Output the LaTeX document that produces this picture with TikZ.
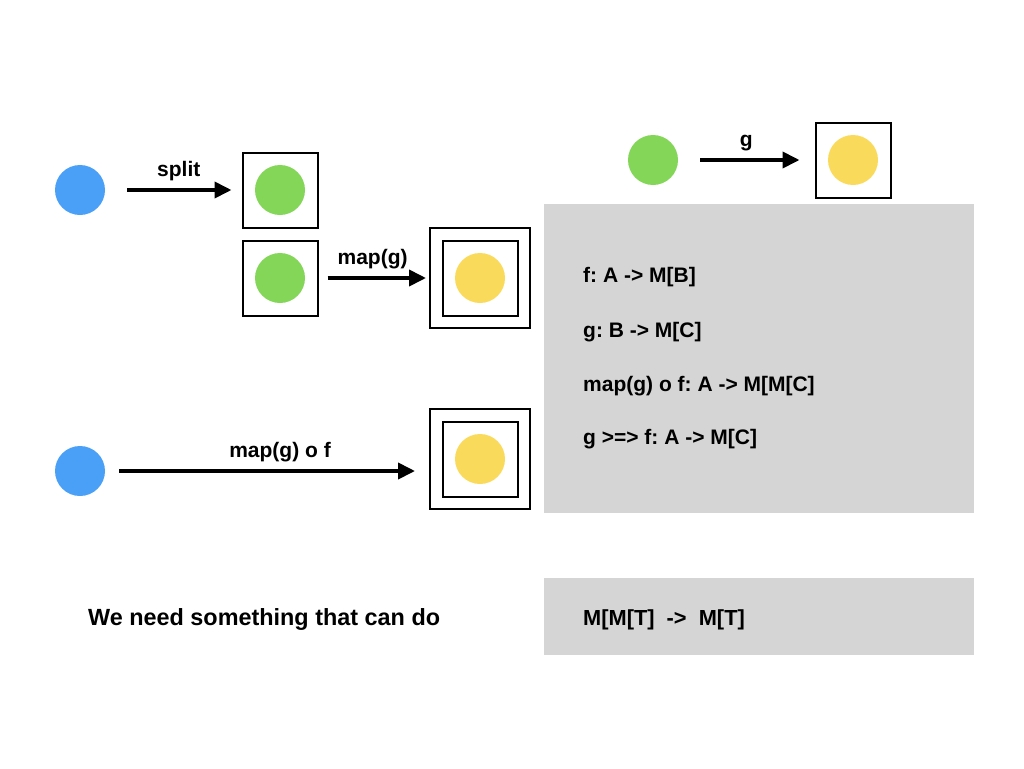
\documentclass[tikz,border=0pt]{standalone}
\usepackage{fontspec}
\setmainfont{Liberation Sans}
\usetikzlibrary{arrows.meta}
\definecolor{cblue}{HTML}{4AA0F7}
\definecolor{cgreen}{HTML}{84D658}
\definecolor{cyellow}{HTML}{F9DA5A}
\definecolor{cgray}{HTML}{D5D5D5}
\tikzset{
  dot/.style={circle, minimum size=50pt, inner sep=0pt, draw=none},
  bluedot/.style={dot, fill=cblue},
  greendot/.style={dot, fill=cgreen},
  yellowdot/.style={dot, fill=cyellow},
  box/.style={rectangle, draw=black, line width=2pt, minimum size=75pt, inner sep=0pt},
  outerbox/.style={rectangle, draw=black, line width=2pt, minimum size=100pt, inner sep=0pt},
  arr/.style={line width=3.8pt, -{Triangle[length=17pt,width=16pt]}},
  lbl/.style={anchor=base, yshift=14pt, inner sep=0pt, font=\bfseries\fontsize{21}{24}\selectfont},
  txt/.style={anchor=base west, inner sep=0pt, font=\bfseries\fontsize{21}{24}\selectfont},
  midtxt/.style={anchor=base west, inner sep=0pt, font=\bfseries\fontsize{21.8}{25}\selectfont},
  bigtxt/.style={anchor=base west, inner sep=0pt, font=\bfseries\fontsize{23.4}{26}\selectfont},
  panel/.style={fill=cgray, draw=none}
}
\begin{document}
\frenchspacing
\begin{tikzpicture}[x=1pt,y=-1pt]
\useasboundingbox (0,0) rectangle (1024,768);
% panels
\fill[panel] (544,204) rectangle (974,513);
\fill[panel] (544,578) rectangle (974,655);
% top-left row
\node[bluedot] (b1) at (80,190) {};
\node[box] (s1) at (280,190) {};
\node[greendot] (g1) at (280,190) {};
\node[box] (s2) at (280,278) {};
\node[greendot] (g2) at (280,278) {};
\node[outerbox] (o1) at (480,278) {};
\node[box] (i1) at (480,278) {};
\node[yellowdot] (y1) at (480,278) {};
\draw[arr, shorten <=22pt, shorten >=10pt] (b1) -- node[lbl, pos=0.54] {split} (s1);
\draw[arr, shorten <=9pt, shorten >=3pt] (s2) -- node[lbl, pos=0.49] {map(g)} (o1);
% bottom-left row
\node[bluedot] (b2) at (80,471) {};
\node[outerbox] (o2) at (480,459) {};
\node[box] (i2) at (480,459) {};
\node[yellowdot] (y2) at (480,459) {};
\coordinate (t2) at (o2.west |- b2);
\draw[arr, shorten <=14pt, shorten >=14pt] (b2) -- node[lbl, pos=0.54] {map(g) o f} (t2);
% top-right row
\node[greendot] (g3) at (653,160) {};
\node[box] (s3) at (853,160) {};
\node[yellowdot] (y3) at (853,160) {};
\draw[arr, shorten <=22pt, shorten >=15pt] (g3) -- node[lbl, pos=0.5] {g} (s3);
% panel texts
\node[txt] (l1) at (583,282) {f: A -> M[B]};
\node[txt] (l2) at (583,337) {g: B -> M[C]};
\node[txt] (l3) at (583,391) {map(g) o f: A -> M[M[C]};
\node[txt] (l4) at (583,444) {g >=> f: A -> M[C]};
\node[midtxt] (l5) at (583,625) {M[M[T]\ \ ->\ \ M[T]};
\node[bigtxt] (l6) at (88,625) {We need something that can do};
\end{tikzpicture}
\end{document}
